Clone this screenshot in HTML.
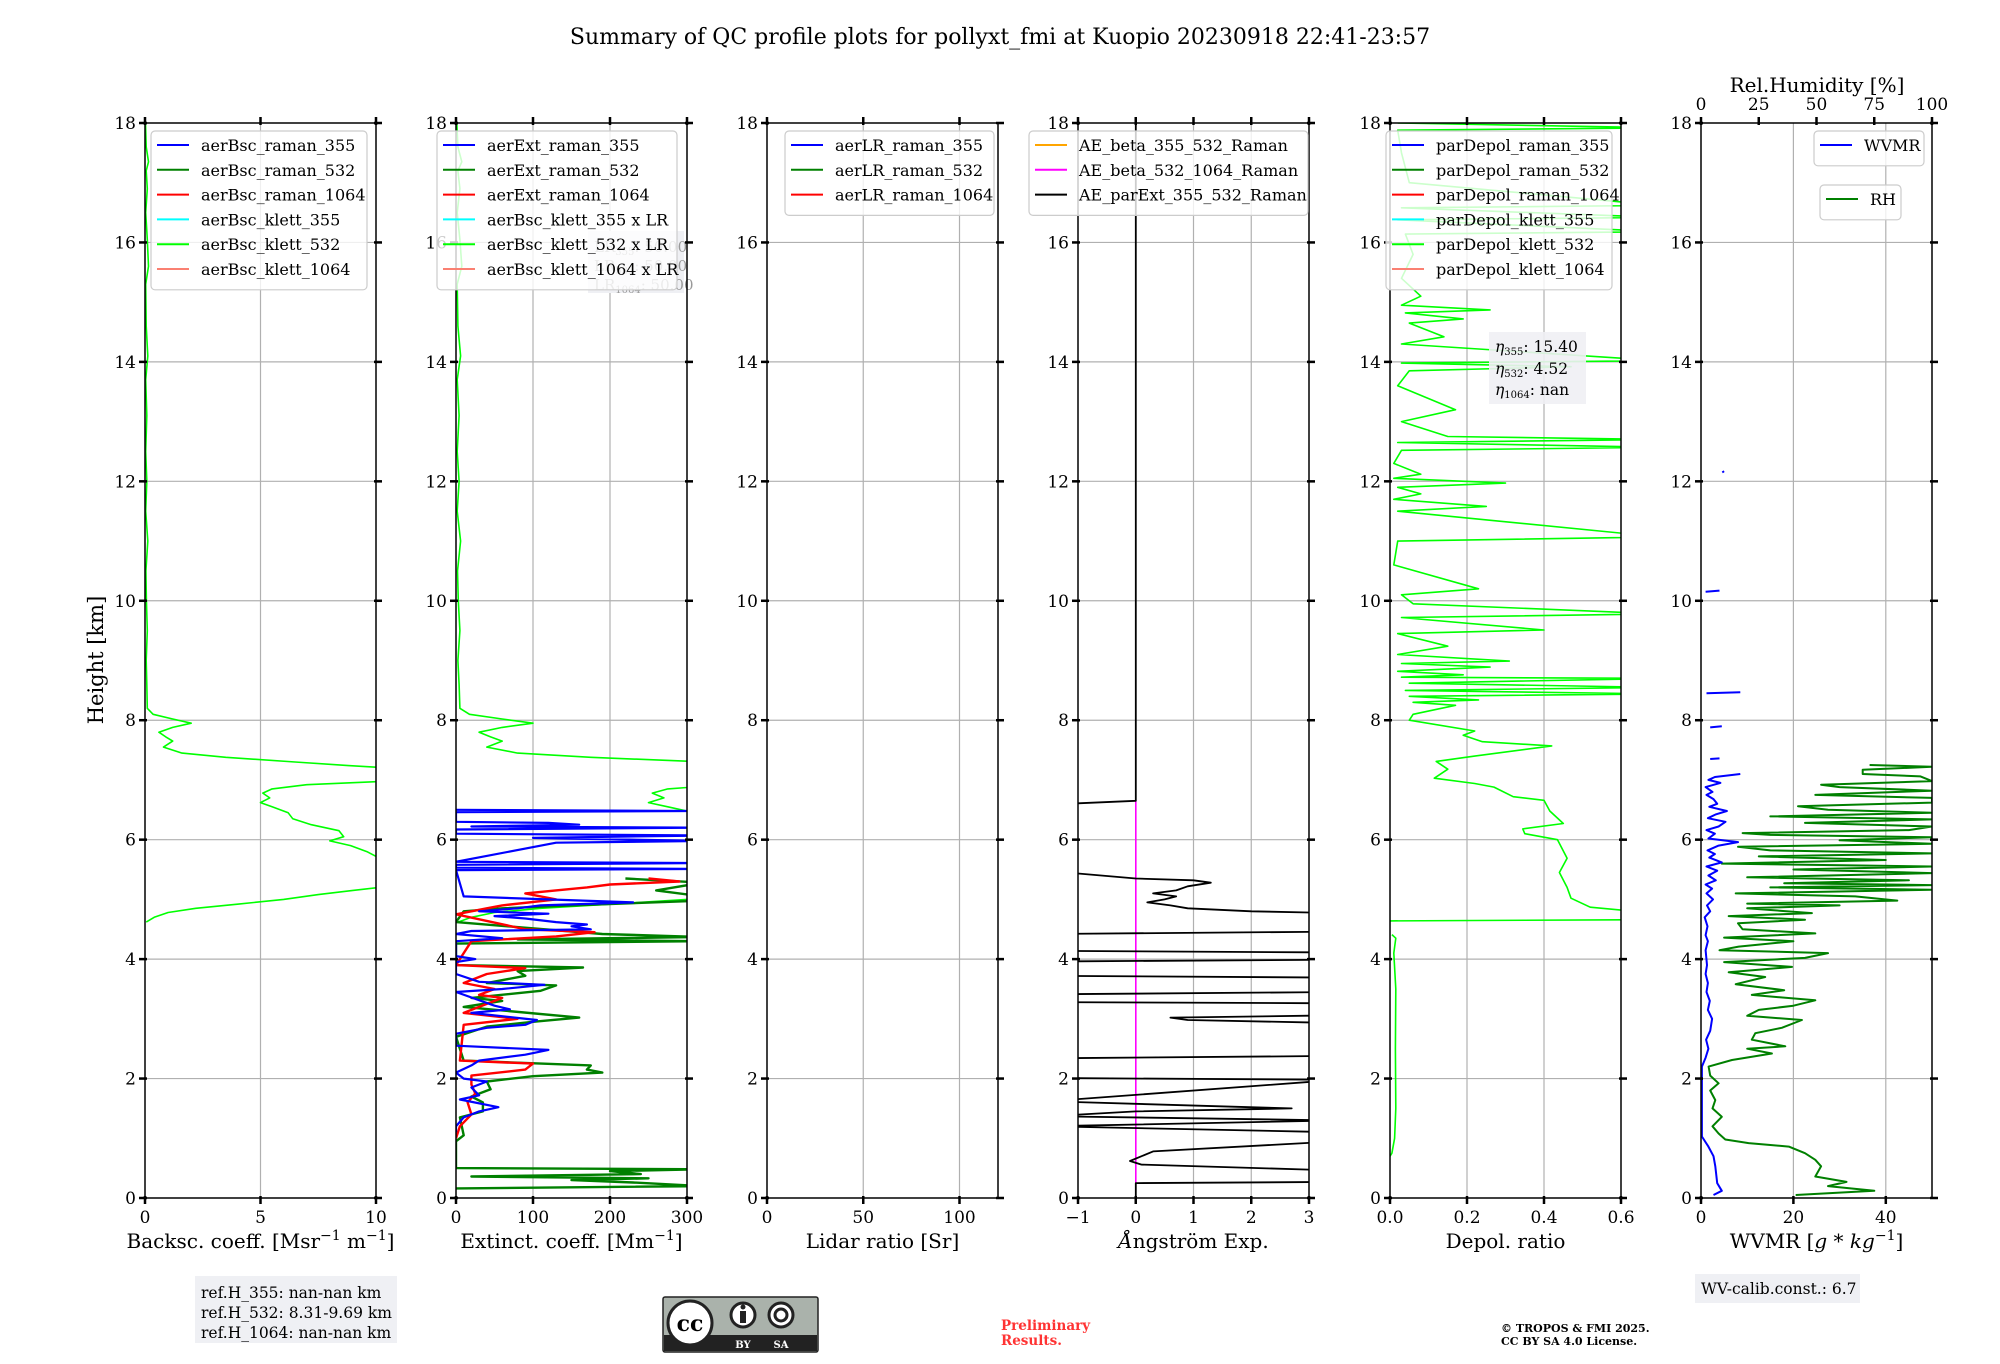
<!DOCTYPE html>
<html><head><meta charset="utf-8">
<style>
html,body{margin:0;padding:0;background:#fff;}
body{width:2000px;height:1360px;position:relative;overflow:hidden;font-family:"DejaVu Serif","Liberation Serif",serif;}
svg text{font-family:"DejaVu Serif","Liberation Serif",serif;}
</style></head>
<body>
<svg id="fig" width="2000" height="1360" viewBox="0 0 2000 1360" xmlns="http://www.w3.org/2000/svg">
<text x="1000" y="44" font-size="22" text-anchor="middle">Summary of QC profile plots for pollyxt_fmi at Kuopio 20230918 22:41-23:57</text>
<text transform="translate(103,660) rotate(-90)" font-size="21" text-anchor="middle">Height [km]</text>
<g id="panels"></g>
<g>
<rect x="195" y="1276" width="202" height="67" fill="#eff0f4"/>
<text x="201" y="1298" font-size="15.5">ref.H_355: nan-nan km</text>
<text x="201" y="1318" font-size="15.5">ref.H_532: 8.31-9.69 km</text>
<text x="201" y="1338" font-size="15.5">ref.H_1064: nan-nan km</text>
</g>
<g>
<rect x="663" y="1297" width="155" height="55" rx="2" fill="#aab2ab" stroke="#222" stroke-width="1.5"/>
<rect x="664" y="1335" width="153" height="16" fill="#222"/>
<circle cx="690" cy="1323" r="22" fill="#fff" stroke="#222" stroke-width="3"/>
<text x="690" y="1331" font-size="22" font-weight="bold" text-anchor="middle" font-family="Liberation Sans, sans-serif">cc</text>
<circle cx="743" cy="1315" r="12" fill="#fff" stroke="#222" stroke-width="3"/>
<rect x="740" y="1311" width="6" height="12" fill="#222"/><circle cx="743" cy="1307" r="2.5" fill="#222"/>
<circle cx="781" cy="1315" r="12" fill="#fff" stroke="#222" stroke-width="3"/>
<circle cx="781" cy="1315" r="6" fill="none" stroke="#222" stroke-width="3"/>
<text x="743" y="1348" font-size="10" fill="#fff" font-weight="bold" text-anchor="middle" font-family="Liberation Sans, sans-serif">BY</text>
<text x="781" y="1348" font-size="10" fill="#fff" font-weight="bold" text-anchor="middle" font-family="Liberation Sans, sans-serif">SA</text>
</g>
<text x="1001" y="1330" font-size="13.5" font-weight="bold" fill="#ff3333">Preliminary</text>
<text x="1001" y="1345" font-size="13.5" font-weight="bold" fill="#ff3333">Results.</text>
<text x="1501" y="1332" font-size="11" font-weight="bold">© TROPOS &amp; FMI 2025.</text>
<text x="1501" y="1345" font-size="11" font-weight="bold">CC BY SA 4.0 License.</text>
<g>
<rect x="1695" y="1274" width="165" height="29" fill="#eff0f4"/>
<text x="1701" y="1294" font-size="15.5">WV-calib.const.: 6.7</text>
</g>
</svg>
<script>
// ---------- data ----------
const heightTicks = [0,2,4,6,8,10,12,14,16,18];
const bscKlett532 = [[18,0.02],[17.6,0.05],[17.35,0.15],[17.2,0.05],[16.9,0.1],[16.5,0.03],[16.05,0.1],[15.6,0.15],[15.3,0.03],[14.6,0.05],[14.1,0.12],[13.7,0.03],[13.1,0.08],[12.5,0.03],[12.0,0.08],[11.5,0.03],[11.0,0.12],[10.5,0.04],[10.0,0.06],[9.5,0.1],[9.0,0.05],[8.6,0.08],[8.2,0.1],[8.1,0.35],[8.02,1.2],[7.95,2.0],[7.88,1.2],[7.8,0.6],[7.72,0.9],[7.65,1.2],[7.55,0.8],[7.45,1.6],[7.38,3.5],[7.3,6.5],[7.24,8.8],[7.2,10.6],[6.98,10.6],[6.92,7.0],[6.85,5.5],[6.78,5.1],[6.7,5.4],[6.62,5.0],[6.55,5.5],[6.45,6.2],[6.35,6.4],[6.25,7.2],[6.15,8.4],[6.05,8.6],[5.98,8.0],[5.9,8.9],[5.8,9.6],[5.7,10.1],[5.6,10.6],[5.22,10.6],[5.15,9.0],[5.08,7.5],[5.0,6.0],[4.92,4.0],[4.85,2.2],[4.78,1.0],[4.7,0.4],[4.62,0.05]];
const lidarRatioKlett = 50;
const extRaman355 = [[6.5,0],[6.48,320],[6.46,0],[6.3,0],[6.28,120],[6.25,160],[6.22,20],[6.2,320],[6.17,0],[6.1,0],[6.07,320],[6.03,100],[5.98,320],[5.95,130],[5.63,0],[5.61,320],[5.58,0],[5.53,0],[5.51,320],[5.49,0],[5.05,10],[4.95,230],[4.9,110],[4.85,80],[4.8,30],[4.76,120],[4.72,50],[4.68,90],[4.62,130],[4.58,170],[4.55,150],[4.5,175],[4.47,20],[4.42,0],[4.35,60],[4.3,0],[4.05,0],[4.0,25],[3.95,0],[3.75,0],[3.62,30],[3.57,115],[3.5,60],[3.45,0],[3.22,50],[3.16,70],[3.1,20],[2.98,105],[2.9,90],[2.85,40],[2.75,0],[2.55,0],[2.48,120],[2.4,90],[2.3,30],[2.22,20],[2.1,0],[2.0,10],[1.95,40],[1.85,20],[1.72,30],[1.65,5],[1.52,55],[1.45,30],[1.35,10],[1.2,0],[1.1,0]];
const extRaman532 = [[5.35,220],[5.28,320],[5.15,260],[5.05,320],[4.98,320],[4.9,150],[4.85,60],[4.8,10],[4.62,0],[4.42,190],[4.37,320],[4.33,80],[4.3,320],[4.26,0],[3.9,0],[3.86,165],[3.8,80],[3.72,90],[3.6,40],[3.56,130],[3.47,110],[3.35,20],[3.3,60],[3.2,10],[3.02,160],[2.95,100],[2.87,40],[2.7,0],[2.3,10],[2.22,175],[2.15,170],[2.1,190],[2.04,100],[1.95,40],[1.82,45],[1.7,20],[1.6,35],[1.45,35],[1.35,5],[1.05,10],[0.95,0],[0.5,0],[0.48,320],[0.45,200],[0.4,240],[0.36,20],[0.33,250],[0.3,150],[0.26,230],[0.2,320],[0.16,0]];
const extRaman1064 = [[5.35,250],[5.3,290],[5.25,200],[5.2,170],[5.1,90],[5.0,130],[4.9,60],[4.85,40],[4.75,0],[4.5,90],[4.45,180],[4.38,130],[4.3,20],[3.9,0],[3.85,90],[3.75,40],[3.6,10],[3.5,50],[3.4,30],[3.35,60],[3.1,10],[3.0,80],[2.9,10],[2.3,5],[2.25,100],[2.15,90],[2.05,20],[1.9,20],[1.75,25],[1.6,15],[1.4,20],[1.2,5],[1.0,0]];
const aeParExt = [[18,0],[6.65,0],[6.6,-1.2],[NaN,NaN],[5.45,-1.2],[5.35,0],[5.32,1.0],[5.28,1.3],[5.22,0.9],[5.15,0.7],[5.1,0.3],[5.05,0.7],[5.0,0.5],[4.95,0.2],[4.9,0.6],[4.85,0.9],[4.8,2.0],[4.77,3.5],[4.46,3.5],[4.42,-1.5],[4.14,-1.5],[4.11,3.5],[3.99,3.5],[3.96,-1.5],[3.72,-1.5],[3.69,3.5],[3.45,3.5],[3.41,-1.5],[3.28,-1.5],[3.26,3.5],[3.06,3.5],[3.02,0.6],[2.98,0.9],[2.93,3.5],[2.38,3.5],[2.34,-1.5],[2.01,-1.5],[1.98,3.5],[1.62,-1.5],[1.5,2.7],[1.45,0],[1.37,-1.5],[1.3,3.5],[1.2,-1.5],[1.1,3.5],[0.95,3.5],[0.78,0.3],[0.62,-0.1],[0.56,0.1],[0.46,3.5],[0.27,3.5],[0.25,0],[0,0]];
const aeBeta532_1064 = [[6.65,0],[0.25,0]];
const depolKlett532 = [[18,0.02],[17.92,0.7],[17.88,0.02],[17.5,0.03],[17.0,0.05],[16.62,0.7],[16.58,0.03],[16.42,0.7],[16.38,0.02],[16.18,0.7],[16.14,0.04],[15.8,0.06],[15.4,0.03],[15.1,0.08],[14.95,0.03],[14.87,0.26],[14.82,0.04],[14.72,0.19],[14.65,0.05],[14.42,0.14],[14.3,0.03],[14.02,0.7],[13.98,0.03],[13.92,0.47],[13.85,0.05],[13.6,0.02],[13.2,0.17],[13.0,0.03],[12.75,0.15],[12.7,0.7],[12.65,0.02],[12.57,0.7],[12.52,0.03],[12.3,0.01],[12.12,0.08],[12.05,0.01],[11.97,0.3],[11.9,0.02],[11.79,0.08],[11.7,0.01],[11.58,0.25],[11.5,0.02],[11.07,0.7],[11.0,0.02],[10.6,0.01],[10.2,0.23],[10.1,0.03],[9.95,0.06],[9.78,0.7],[9.72,0.03],[9.51,0.4],[9.45,0.02],[9.24,0.15],[9.1,0.02],[8.99,0.31],[8.95,0.03],[8.89,0.26],[8.82,0.02],[8.76,0.19],[8.72,0.03],[8.7,0.7],[8.62,0.05],[8.55,0.7],[8.5,0.04],[8.44,0.7],[8.4,0.05],[8.34,0.23],[8.3,0.06],[8.25,0.17],[8.1,0.06],[8.0,0.05],[7.82,0.22],[7.75,0.19],[7.64,0.24],[7.57,0.42],[7.4,0.22],[7.31,0.12],[7.18,0.15],[7.03,0.115],[6.94,0.22],[6.88,0.27],[6.72,0.32],[6.66,0.40],[6.48,0.415],[6.27,0.45],[6.18,0.345],[6.1,0.35],[6.0,0.435],[5.69,0.46],[5.45,0.44],[5.2,0.46],[5.02,0.47],[4.87,0.52],[4.79,0.65],[4.66,0.65],[4.64,0],[NaN,NaN],[4.41,0.005],[4.35,0.015],[4.1,0.01],[3.5,0.015],[2.5,0.014],[1.5,0.015],[1.0,0.012],[0.75,0.005],[0.7,0]];
const wvmr = [[0.05,2.7],[0.12,4.5],[0.25,3.5],[0.53,3.1],[0.7,2.7],[0.86,1.6],[1.03,0.2],[1.6,0.2],[2.2,0.2],[2.35,1.0],[2.5,1.6],[2.65,1.1],[2.8,2.0],[3.0,2.4],[3.15,1.5],[3.3,1.9],[3.45,1.2],[3.6,1.5],[3.75,1.0],[3.9,1.3],[4.15,1.0],[4.3,1.5],[4.4,1.0],[4.55,1.4],[4.7,0.8],[4.8,2.0],[4.9,1.3],[5.0,2.6],[5.1,1.2],[5.18,2.4],[5.25,1.0],[5.32,3.2],[5.4,1.6],[5.48,3.5],[5.55,1.2],[5.62,4.5],[5.7,1.8],[5.76,3.0],[5.82,1.4],[5.9,3.8],[5.96,8.0],[6.02,1.6],[6.1,3.0],[6.16,1.2],[6.22,3.8],[6.3,5.3],[6.36,1.5],[6.42,3.1],[6.48,5.6],[6.55,1.8],[6.6,3.5],[6.68,2.7],[6.75,1.2],[6.8,2.5],[6.88,1.0],[6.95,4.2],[7.0,1.6],[7.05,3.0],[7.1,8.5],[NaN,NaN],[7.35,2.0],[7.36,4.0],[NaN,NaN],[7.88,2.0],[7.9,4.5],[NaN,NaN],[8.45,1.2],[8.47,8.5],[NaN,NaN],[10.15,1.0],[10.17,4.0],[NaN,NaN],[12.15,4.6],[12.17,5.0]];
const relHumidity = [[0.05,41],[0.12,75],[0.2,55],[0.27,63],[0.36,49.5],[0.53,52],[0.64,49.5],[0.75,45],[0.86,38],[0.92,20.6],[0.98,10.5],[1.08,7.6],[1.2,5],[1.36,9],[1.5,5],[1.64,6.2],[1.8,4],[1.92,7.6],[2.05,4],[2.2,3.3],[2.31,13.4],[2.42,30.7],[2.5,20],[2.54,36.5],[2.65,22],[2.76,23.5],[2.85,35],[2.98,43.7],[3.05,20],[3.15,25],[3.22,40],[3.31,49.5],[3.4,22],[3.48,36],[3.58,15],[3.7,27.8],[3.78,12],[3.87,39.4],[3.95,10],[4.02,45],[4.1,55],[4.15,8],[4.21,16.3],[4.3,40],[4.36,10],[4.43,49.5],[4.5,18],[4.6,16],[4.66,45],[4.72,12],[4.77,48],[4.85,20],[4.9,60],[4.93,20],[4.98,85],[5.05,66.8],[5.1,15],[5.16,100],[5.2,30],[5.24,100],[5.27,36],[5.32,90],[5.37,20],[5.44,100],[5.5,40],[5.55,100],[5.6,9],[5.66,80],[5.72,25],[5.77,100],[5.82,30],[5.88,16],[5.93,100],[5.99,60],[6.04,100],[6.08,30],[6.11,18],[6.16,90],[6.22,100],[6.28,45],[6.34,100],[6.39,30],[6.45,100],[6.5,55],[6.56,42],[6.62,100],[6.7,100],[6.75,49.5],[6.82,100],[6.88,60],[6.92,52],[6.98,100],[7.06,95],[7.1,70],[7.17,70],[7.22,100],[7.25,73]];
const bscTicks=[0,5,10], extTicks=[0,100,200,300], lrTicks=[0,50,100], aeTicks=[-1,0,1,2,3], depTicks=[0,0.2,0.4,0.6], wvTicks=[0,20,40], rhTicks=[0,25,50,75,100];

// ---------- layout ----------
const NS="http://www.w3.org/2000/svg";
const Y0=1198, YT=123, W=231;
const lefts=[145,456,767,1078,1390,1701];
function yS(h){return Y0-(h/18)*(Y0-YT);}
const root=document.getElementById('panels');
function el(tag,attrs,parent){const e=document.createElementNS(NS,tag);for(const k in attrs)e.setAttribute(k,attrs[k]);(parent||root).appendChild(e);return e;}
function fmt(v,dec){if(v<0)return '\u2212'+Math.abs(v).toFixed(dec);return v.toFixed(dec);}

function makePanel(i,name,xmin,xmax,ticks,dec,xlabelHTML){
  const x0=lefts[i];
  const xS=v=>x0+(v-xmin)/(xmax-xmin)*W;
  const g=el('g',{});
  
  
  const cp=el('clipPath',{id:'clip'+i},g);
  el('rect',{x:x0,y:YT,width:W,height:Y0-YT},cp);
  heightTicks.forEach(h=>{ if(h>0&&h<18){const l=el('line',{x1:x0,x2:x0+W,y1:yS(h),y2:yS(h),stroke:'#b0b0b0','stroke-width':1.2},g);
    
    }});
  ticks.forEach(t=>{const x=xS(t); if(x>x0+1&&x<x0+W-1){const l=el('line',{x1:x,x2:x,y1:YT,y2:Y0,stroke:'#b0b0b0','stroke-width':1.2},g);
    
    }});
  const plot=el('g',{'clip-path':'url(#clip'+i+')'},g);
  
  
  return {g,plot,x0,xS,ticks,dec,xlabelHTML,i};
}
function finishPanel(p,topTicks){
  const {g,x0,xS,ticks,dec}=p;
  const sp=el('rect',{x:x0,y:YT,width:W,height:Y0-YT,fill:'none',stroke:'#000','stroke-width':1.5},g);
  
  
  heightTicks.forEach(h=>{
    const y=yS(h);
    el('line',{x1:x0-6,x2:x0+2,y1:y,y2:y,stroke:'#000','stroke-width':2.5},g);
    el('line',{x1:x0+W-2,x2:x0+W+6,y1:y,y2:y,stroke:'#000','stroke-width':2.5},g);
    const t=el('text',{x:x0-9,y:y+6,'font-size':17,'text-anchor':'end'},g);
    
    
    t.textContent=h;
  });
  ticks.forEach(v=>{
    const x=xS(v);
    el('line',{x1:x,x2:x,y1:Y0-2,y2:Y0+6,stroke:'#000','stroke-width':2.5},g);
    if(!topTicks) el('line',{x1:x,x2:x,y1:YT-6,y2:YT+2,stroke:'#000','stroke-width':2.5},g);
    const t=el('text',{x:x,y:Y0+25,'font-size':17,'text-anchor':'middle'},g);
    
    
    t.textContent=fmt(v,dec);
  });
  const lab=el('text',{x:x0+W/2,y:1248,'font-size':20,'text-anchor':'middle'},g);
  
  
  lab.innerHTML=p.xlabelHTML;
}
function drawLine(p,data,scaleFn,color,width,name,op){
  let d='',pen=false;
  data.forEach(([h,v])=>{
    if(isNaN(h)||isNaN(v)){pen=false;return;}
    const x=scaleFn(v),y=yS(h);
    d+=(pen?'L':'M')+x.toFixed(1)+' '+y.toFixed(1);pen=true;
  });
  const path=el('path',{d:d,fill:'none',stroke:color,'stroke-width':width,'stroke-linejoin':'round',opacity:op||1},p.plot);
  
  
}
function legend(p,name,x,y,w,entries,rowH,fs){
  const lg=el('g',{},p.g);
  
  
  el('rect',{x:x,y:y,width:w,height:entries.length*rowH+10,rx:4,fill:'#fff','fill-opacity':0.8,stroke:'#cccccc','stroke-width':1.2},lg);
  entries.forEach((e,k)=>{
    const cy=y+14+k*rowH;
    el('line',{x1:x+6,x2:x+38,y1:cy,y2:cy,stroke:e[1],'stroke-width':2},lg);
    const t=el('text',{x:x+50,y:cy+6,'font-size':fs},lg);
    
    
    t.textContent=e[0];
  });
}
const C={blue:'#0000ff',green:'#008000',red:'#ff0000',cyan:'#00ffff',lime:'#00ff00',salmon:'#fa8072'};

const p1=makePanel(0,'backscatter-panel',0,10,bscTicks,0,'Backsc. coeff. [Msr<tspan dy="-8" font-size="14">−1</tspan><tspan dy="8"> m</tspan><tspan dy="-8" font-size="14">−1</tspan><tspan dy="8">]</tspan>');
drawLine(p1,bscKlett532,p1.xS,C.lime,1.6,'bsc-klett-532-line');
finishPanel(p1);
legend(p1,'backscatter-legend',151,131,216,[['aerBsc_raman_355',C.blue],['aerBsc_raman_532',C.green],['aerBsc_raman_1064',C.red],['aerBsc_klett_355',C.cyan],['aerBsc_klett_532',C.lime],['aerBsc_klett_1064',C.salmon]],24.8,16);

const p2=makePanel(1,'extinction-panel',0,300,extTicks,0,'Extinct. coeff. [Mm<tspan dy="-8" font-size="14">−1</tspan><tspan dy="8">]</tspan>');
const lrBox=el('g',{},p2.g);


el('rect',{x:588,y:231,width:96,height:62,fill:'#eff0f4'},lrBox);
[['LR',"355",': 50.00',252],['LR',"532",': 50.00',271],['LR',"1064",': 50.00',290]].forEach(r=>{const t=el('text',{x:594,y:r[3],'font-size':15,fill:'#999'},lrBox);t.innerHTML=r[0]+'<tspan font-size="10" dy="3">'+r[1]+'</tspan><tspan dy="-3">'+r[2]+'</tspan>';});
drawLine(p2,bscKlett532.map(([h,v])=>[h,v*lidarRatioKlett]),p2.xS,C.lime,1.6,'ext-klett-532-line');
drawLine(p2,extRaman532,p2.xS,C.green,2.4,'ext-raman-532-line');
drawLine(p2,extRaman1064,p2.xS,C.red,2.4,'ext-raman-1064-line');
drawLine(p2,extRaman355,p2.xS,C.blue,2.2,'ext-raman-355-line');
finishPanel(p2);
legend(p2,'extinction-legend',437,131,240,[['aerExt_raman_355',C.blue],['aerExt_raman_532',C.green],['aerExt_raman_1064',C.red],['aerBsc_klett_355 x LR',C.cyan],['aerBsc_klett_532 x LR',C.lime],['aerBsc_klett_1064 x LR',C.salmon]],24.8,16);

const p3=makePanel(2,'lidar-ratio-panel',0,120,lrTicks,0,'Lidar ratio [Sr]');
finishPanel(p3);
legend(p3,'lidar-ratio-legend',785,131,209,[['aerLR_raman_355',C.blue],['aerLR_raman_532',C.green],['aerLR_raman_1064',C.red]],24.8,16);

const p4=makePanel(3,'angstrom-panel',-1,3,aeTicks,0,'<tspan font-style="italic">Å</tspan>ngström Exp.');
drawLine(p4,aeBeta532_1064,p4.xS,'#ff00ff',1.6,'ae-beta-532-1064-line');
drawLine(p4,aeParExt,p4.xS,'#000',1.8,'ae-parext-355-532-line');
finishPanel(p4);
legend(p4,'angstrom-legend',1029,131,279,[['AE_beta_355_532_Raman','#ffa500'],['AE_beta_532_1064_Raman','#ff00ff'],['AE_parExt_355_532_Raman','#000000']],24.8,16);

const p5=makePanel(4,'depol-panel',0,0.6,depTicks,1,'Depol. ratio');
drawLine(p5,depolKlett532,p5.xS,C.lime,1.6,'pardepol-klett-532-line');
finishPanel(p5);
legend(p5,'depol-legend',1386,131,226,[['parDepol_raman_355',C.blue],['parDepol_raman_532',C.green],['parDepol_raman_1064',C.red],['parDepol_klett_355',C.cyan],['parDepol_klett_532',C.lime],['parDepol_klett_1064',C.salmon]],24.8,16);
const eta=el('g',{},p5.g);


el('rect',{x:1489,y:332,width:97,height:72,fill:'#eff0f4','fill-opacity':0.9},eta);
[['355',': 15.40',352],['532',': 4.52',374],['1064',': nan',395]].forEach(r=>{const t=el('text',{x:1495,y:r[2],'font-size':15.5},eta);t.innerHTML='<tspan font-style="italic">η</tspan><tspan font-size="10" dy="3">'+r[0]+'</tspan><tspan dy="-3">'+r[1]+'</tspan>';});

const p6=makePanel(5,'wvmr-panel',0,50,wvTicks,0,'WVMR [<tspan font-style="italic">g</tspan> * <tspan font-style="italic">kg</tspan><tspan dy="-8" font-size="14">−1</tspan><tspan dy="8">]</tspan>');
const rhS=v=>lefts[5]+v/100*W;
drawLine(p6,relHumidity,rhS,C.green,2.0,'rh-line');
drawLine(p6,wvmr,p6.xS,C.blue,2.0,'wvmr-line');
finishPanel(p6,true);
rhTicks.forEach(v=>{const x=rhS(v);
  el('line',{x1:x,x2:x,y1:YT-6,y2:YT+2,stroke:'#000','stroke-width':2.5},p6.g);
  const t=el('text',{x:x,y:110,'font-size':17,'text-anchor':'middle'},p6.g);
  
  
  t.textContent=v;});
const rht=el('text',{x:1817,y:92,'font-size':20,'text-anchor':'middle'},p6.g);


rht.textContent='Rel.Humidity [%]';
legend(p6,'wvmr-legend',1814,131,110,[['WVMR',C.blue]],24.8,16);
legend(p6,'rh-legend',1820,185,81,[['RH',C.green]],24.8,16);
</script>
</body></html>
